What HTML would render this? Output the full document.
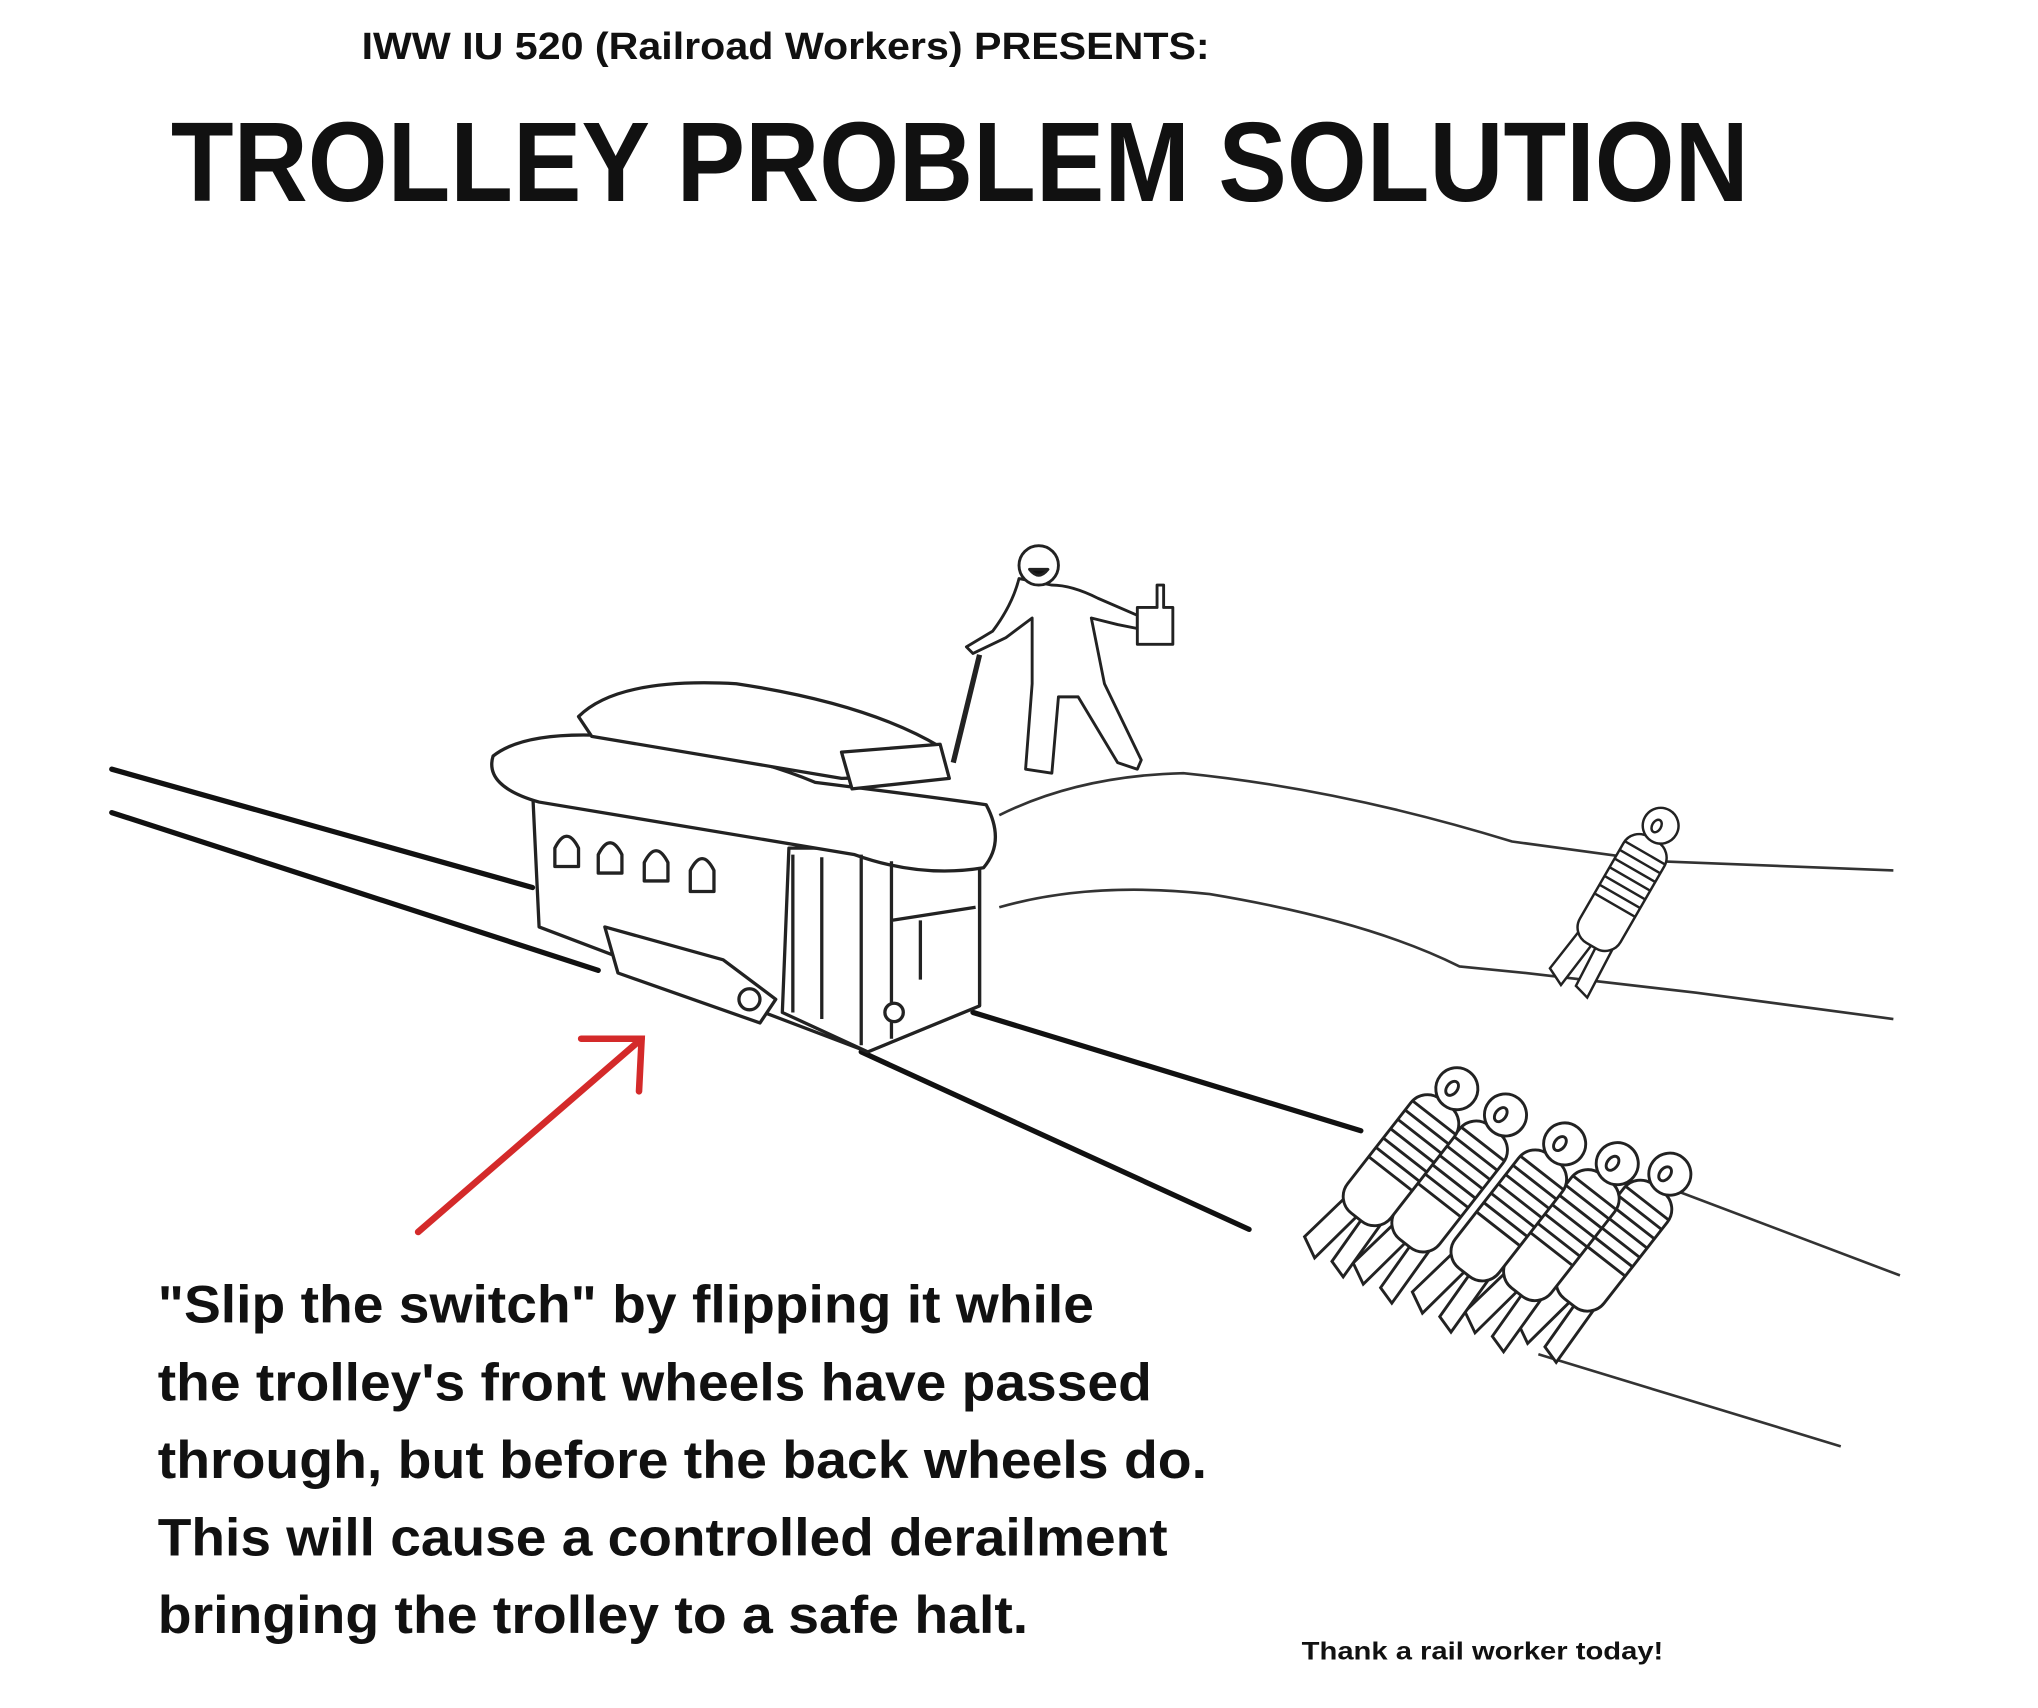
<!DOCTYPE html>
<html><head><meta charset="utf-8"><style>
html,body{margin:0;padding:0;background:#fff;}
svg{display:block;}
text{font-family:"Liberation Sans",sans-serif;fill:#111;}
</style></head><body>
<svg width="2038" height="1708" viewBox="0 0 1550 1299" xmlns="http://www.w3.org/2000/svg">
<defs>
<g id="p" fill="#fff" stroke="#222" stroke-width="2.2">
  <path d="M-16 118 L-22 160 L-6 168 L0 122 Z M4 120 L6 162 L20 166 L18 118 Z"/>
  <rect x="-21" y="14" width="42" height="110" rx="16"/>
  <path d="M-20 28 H20 M-21 37 H21 M-21 46 H21 M-21 55 H21 M-21 64 H21 M-21 73 H21 M-20 82 H20" fill="none"/>
  <circle cx="0" cy="0" r="16"/>
  <ellipse cx="-3" cy="2" rx="4" ry="6" fill="none"/>
</g>
</defs>
<rect width="1550" height="1299" fill="#fff"/>
<text x="275" y="45" font-size="29" font-weight="bold" textLength="645" lengthAdjust="spacingAndGlyphs">IWW IU 520 (Railroad Workers) PRESENTS:</text>
<text x="130" y="153" font-size="86" font-weight="bold" textLength="1200" lengthAdjust="spacingAndGlyphs">TROLLEY PROBLEM SOLUTION</text>

<g stroke="#111" stroke-width="4" fill="none" stroke-linecap="round">
<line x1="85" y1="585" x2="405" y2="675"/>
<line x1="85" y1="618" x2="455" y2="738"/>
<line x1="655" y1="800" x2="950" y2="935"/>
<line x1="740" y1="770" x2="1035" y2="860"/>
<line x1="490" y1="745" x2="550" y2="765"/>
</g>
<g stroke="#333" stroke-width="2" fill="none">
<path d="M760 620 Q820 590 900 588 Q1020 600 1150 640 L1260 655 L1440 662"/>
<path d="M760 690 Q830 670 920 680 Q1040 700 1110 735 L1160 740 L1290 755 L1440 775"/>
<path d="M1260 900 L1445 970"/>
<path d="M1170 1030 L1400 1100"/>
</g>

<g stroke="#222" stroke-width="2.5" fill="#fff" stroke-linejoin="round">
<path d="M405 600 L745 640 L745 765 L660 800 L410 705 Z"/>
<path d="M600 645 L745 645 L745 765 L660 800 L595 770 Z"/>
<path d="M375 575 Q400 555 470 560 Q560 570 620 595 Q700 605 750 612 Q765 640 748 660 Q700 668 650 650 L410 610 Q368 598 375 575 Z"/>
<path d="M440 545 Q470 515 560 520 Q660 535 715 568 L720 590 L640 592 L450 560 Z"/>
<path d="M640 572 L715 566 L722 592 L648 600 Z"/>
<path d="M422 645 q9-18 18 0 v14 h-18 Z M455 650 q9-18 18 0 v14 h-18 Z M490 656 q9-18 18 0 v14 h-18 Z M525 662 q9-18 18 0 v16 h-18 Z"/>
<path d="M603 650 V770 M625 652 V775 M655 650 V795 M678 655 V790 M678 700 L742 690 M700 700 V745"/>
<path d="M460 705 L550 730 L590 760 L578 778 L470 740 Z"/>
<circle cx="570" cy="760" r="8"/><circle cx="680" cy="770" r="7"/>
<line x1="725" y1="580" x2="745" y2="498" stroke-width="4"/>
</g>

<g stroke="#222" stroke-width="2.2" fill="#fff" stroke-linejoin="round">
<path d="M775 440 Q770 460 755 480 L735 492 L740 497 L765 485 L785 470 L785 520 L780 585 L800 588 L805 530 L820 530 L850 580 L865 585 L868 578 L840 520 L830 470 L850 475 L865 478 L865 468 L835 455 Q815 445 800 445 Z"/>
<circle cx="790" cy="430" r="15"/>
<path d="M783 433 q7 9 14 0 Z" fill="#111"/>
<path d="M865 462 H880 V445 H885 V462 H892 V490 H865 Z"/>
</g>

<use href="#p" transform="translate(1263,628) rotate(30) scale(0.85)"/>
<use href="#p" transform="translate(1270,893) rotate(38)"/>
<use href="#p" transform="translate(1230,885) rotate(38)"/>
<use href="#p" transform="translate(1190,870) rotate(38)"/>
<use href="#p" transform="translate(1145,848) rotate(38)"/>
<use href="#p" transform="translate(1108,828) rotate(38)"/>

<g stroke="#d42a2a" stroke-width="5" fill="none" stroke-linecap="round">
<line x1="318" y1="937" x2="488" y2="790"/>
<polyline points="442,790 488,790 486,830"/>
</g>

<g font-size="40" font-weight="bold">
<text x="120" y="1006" textLength="712" lengthAdjust="spacingAndGlyphs">"Slip the switch" by flipping it while</text>
<text x="120" y="1065" textLength="756" lengthAdjust="spacingAndGlyphs">the trolley's front wheels have passed</text>
<text x="120" y="1124" textLength="798" lengthAdjust="spacingAndGlyphs">through, but before the back wheels do.</text>
<text x="120" y="1183" textLength="768" lengthAdjust="spacingAndGlyphs">This will cause a controlled derailment</text>
<text x="120" y="1242" textLength="662" lengthAdjust="spacingAndGlyphs">bringing the trolley to a safe halt.</text>
</g>
<text x="990" y="1262" font-size="19" font-weight="bold" textLength="275" lengthAdjust="spacingAndGlyphs">Thank a rail worker today!</text>
</svg>
</body></html>
